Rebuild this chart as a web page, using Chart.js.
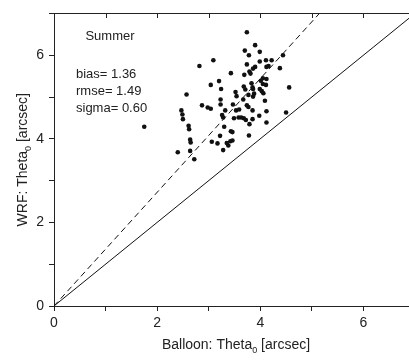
<!DOCTYPE html>
<html>
<head>
<meta charset="utf-8">
<script src="https://cdn.jsdelivr.net/npm/chart.js@4/dist/chart.umd.min.js"></script>
<style>
html,body{margin:0;padding:0;background:#fff;overflow:hidden;width:409px;height:362px;}
canvas{display:block;}
</style>
</head>
<body>
<canvas id="c" width="420" height="362"></canvas>
<script>
// Balloon-measured Theta0 (arcsec), x values
const balloon = [3.74,3.90,3.70,3.99,3.78,4.44,4.11,4.22,3.99,3.90,
  3.86,3.74,4.16,4.12,4.38,3.79,3.81,3.69,4.05,4.01,
  4.05,4.12,4.11,3.83,3.85,3.86,3.68,4.56,3.99,4.03,
  4.06,3.88,3.86,3.77,3.67,4.09,3.09,2.82,3.43,3.20,
  3.04,3.24,2.57,3.52,3.54,3.23,3.47,3.53,3.59,3.32,
  2.87,2.98,3.04,3.23,3.26,3.28,3.49,3.58,2.47,2.49,
  2.50,2.61,2.62,3.30,3.22,3.43,3.46,2.64,2.65,3.06,
  3.17,3.35,3.38,3.42,3.46,3.28,2.40,2.64,2.72,1.75,
  3.74,3.77,3.85,4.12,4.50,3.98,3.63,3.68,3.72,3.85,4.12,3.79,3.78,3.71];
// WRF-modelled Theta0 (arcsec), y values
const wrf = [6.55,6.24,6.11,6.08,6.00,6.00,5.88,5.88,5.85,5.72,
  5.68,5.78,5.74,5.72,5.69,5.61,5.56,5.53,5.45,5.39,
  5.31,5.43,5.29,5.33,5.23,5.19,5.25,5.23,5.19,5.14,
  5.09,5.08,5.01,5.05,4.94,4.91,5.88,5.74,5.57,5.38,
  5.29,5.19,5.06,5.12,5.02,4.94,4.82,4.68,4.70,4.68,
  4.80,4.75,4.72,4.82,4.57,4.51,4.49,4.51,4.68,4.58,
  4.47,4.31,4.23,4.29,4.07,4.18,4.16,3.98,3.91,3.93,
  3.89,3.90,3.84,3.94,3.96,3.73,3.68,3.71,3.51,4.29,
  4.80,4.76,4.68,4.66,4.63,4.55,4.51,4.49,4.45,4.47,4.39,4.35,4.08,5.18];
const biasSlope = 1.36;
const axisMin = 0, axisMax = 7;
const tickLabels = [0, 2, 4, 6];
const statsLines = ["bias= 1.36", "rmse= 1.49", "sigma= 0.60"];
const season = "Summer";

const FONT = '"Liberation Sans", Arial, sans-serif';
const points = balloon.map((x, i) => ({x: x, y: wrf[i]}));
const oneToOne = [{x: axisMin, y: axisMin}, {x: axisMax, y: axisMax}];
const biasLine = [{x: axisMin, y: axisMin}, {x: axisMax / biasSlope, y: axisMax}];

const deco = {
  id: 'deco',
  afterDraw(chart) {
    const ctx = chart.ctx, a = chart.chartArea;
    const xs = chart.scales.x, ys = chart.scales.y;
    ctx.save();
    ctx.strokeStyle = '#222';
    ctx.lineWidth = 1;
    // frame top and right
    ctx.beginPath();
    ctx.moveTo(Math.round(a.left) + 0.5, Math.round(a.top) + 0.5);
    ctx.lineTo(Math.round(a.right) + 0.5, Math.round(a.top) + 0.5);
    ctx.lineTo(Math.round(a.right) + 0.5, Math.round(a.bottom) + 0.5);
    ctx.stroke();
    // inward ticks on top and right
    ctx.beginPath();
    for (let v = axisMin; v <= axisMax; v++) {
      const px = Math.round(xs.getPixelForValue(v)) + 0.5;
      ctx.moveTo(px, Math.round(a.top));
      ctx.lineTo(px, Math.round(a.top) + 5);
      const py = Math.round(ys.getPixelForValue(v)) + 0.5;
      ctx.moveTo(Math.round(a.right), py);
      ctx.lineTo(Math.round(a.right) - 5, py);
    }
    ctx.stroke();
    // annotations
    ctx.fillStyle = '#222';
    ctx.font = '13px ' + FONT;
    ctx.textBaseline = 'middle';
    ctx.textAlign = 'center';
    ctx.fillText(season, 110, 36);
    ctx.textAlign = 'left';
    statsLines.forEach((t, i) => ctx.fillText(t, 76, 74 + i * 17));
    // axis titles with subscript
    function subTitle(parts, cx, cy) {
      ctx.font = '14px ' + FONT;
      const w1 = ctx.measureText(parts[0]).width;
      ctx.font = '9px ' + FONT;
      const w2 = ctx.measureText(parts[1]).width;
      ctx.font = '14px ' + FONT;
      const w3 = ctx.measureText(parts[2]).width;
      let x = cx - (w1 + w2 + w3) / 2;
      ctx.textAlign = 'left';
      ctx.textBaseline = 'middle';
      ctx.fillText(parts[0], x, cy);
      ctx.font = '9px ' + FONT;
      ctx.fillText(parts[1], x + w1, cy + 6);
      ctx.font = '14px ' + FONT;
      ctx.fillText(parts[2], x + w1 + w2, cy);
    }
    subTitle(['Balloon: Theta', '0', ' [arcsec]'], 236, 345);
    ctx.save();
    ctx.translate(23, (a.top + a.bottom) / 2);
    ctx.rotate(-Math.PI / 2);
    subTitle(['WRF: Theta', '0', ' [arcsec]'], 0, 0);
    ctx.restore();
    ctx.restore();
  }
};

const axisCommon = {
  type: 'linear',
  min: axisMin,
  max: axisMax,
  grid: {display: true, drawOnChartArea: false, drawTicks: true, tickLength: 5, color: '#222', lineWidth: 1},
  border: {display: true, color: '#222', width: 1},
  ticks: {
    stepSize: 1,
    color: '#222',
    font: {family: FONT, size: 14},
    callback: v => tickLabels.includes(v) ? String(v) : ''
  }
};

new Chart(document.getElementById('c'), {
  type: 'scatter',
  data: {
    datasets: [
      {data: points, pointRadius: 2.3, pointBackgroundColor: '#111', pointBorderWidth: 0, showLine: false},
      {data: oneToOne, showLine: true, borderColor: '#111', borderWidth: 1, pointRadius: 0},
      {data: biasLine, showLine: true, borderColor: '#111', borderWidth: 1, borderDash: [6, 4], pointRadius: 0}
    ]
  },
  options: {
    responsive: false,
    animation: false,
    events: [],
    layout: {padding: {top: 8, right: 5, left: 0, bottom: 0}},
    plugins: {legend: {display: false}, tooltip: {enabled: false}},
    scales: {
      x: Object.assign({}, axisCommon, {
        position: 'bottom',
        ticks: Object.assign({}, axisCommon.ticks, {padding: 4, maxRotation: 0, autoSkip: false}),
        afterFit: s => { s.height = 56; }
      }),
      y: Object.assign({}, axisCommon, {
        position: 'left',
        ticks: Object.assign({}, axisCommon.ticks, {padding: 5, autoSkip: false}),
        afterFit: s => { s.width = 54; }
      })
    }
  },
  plugins: [deco]
});
</script>
</body>
</html>
